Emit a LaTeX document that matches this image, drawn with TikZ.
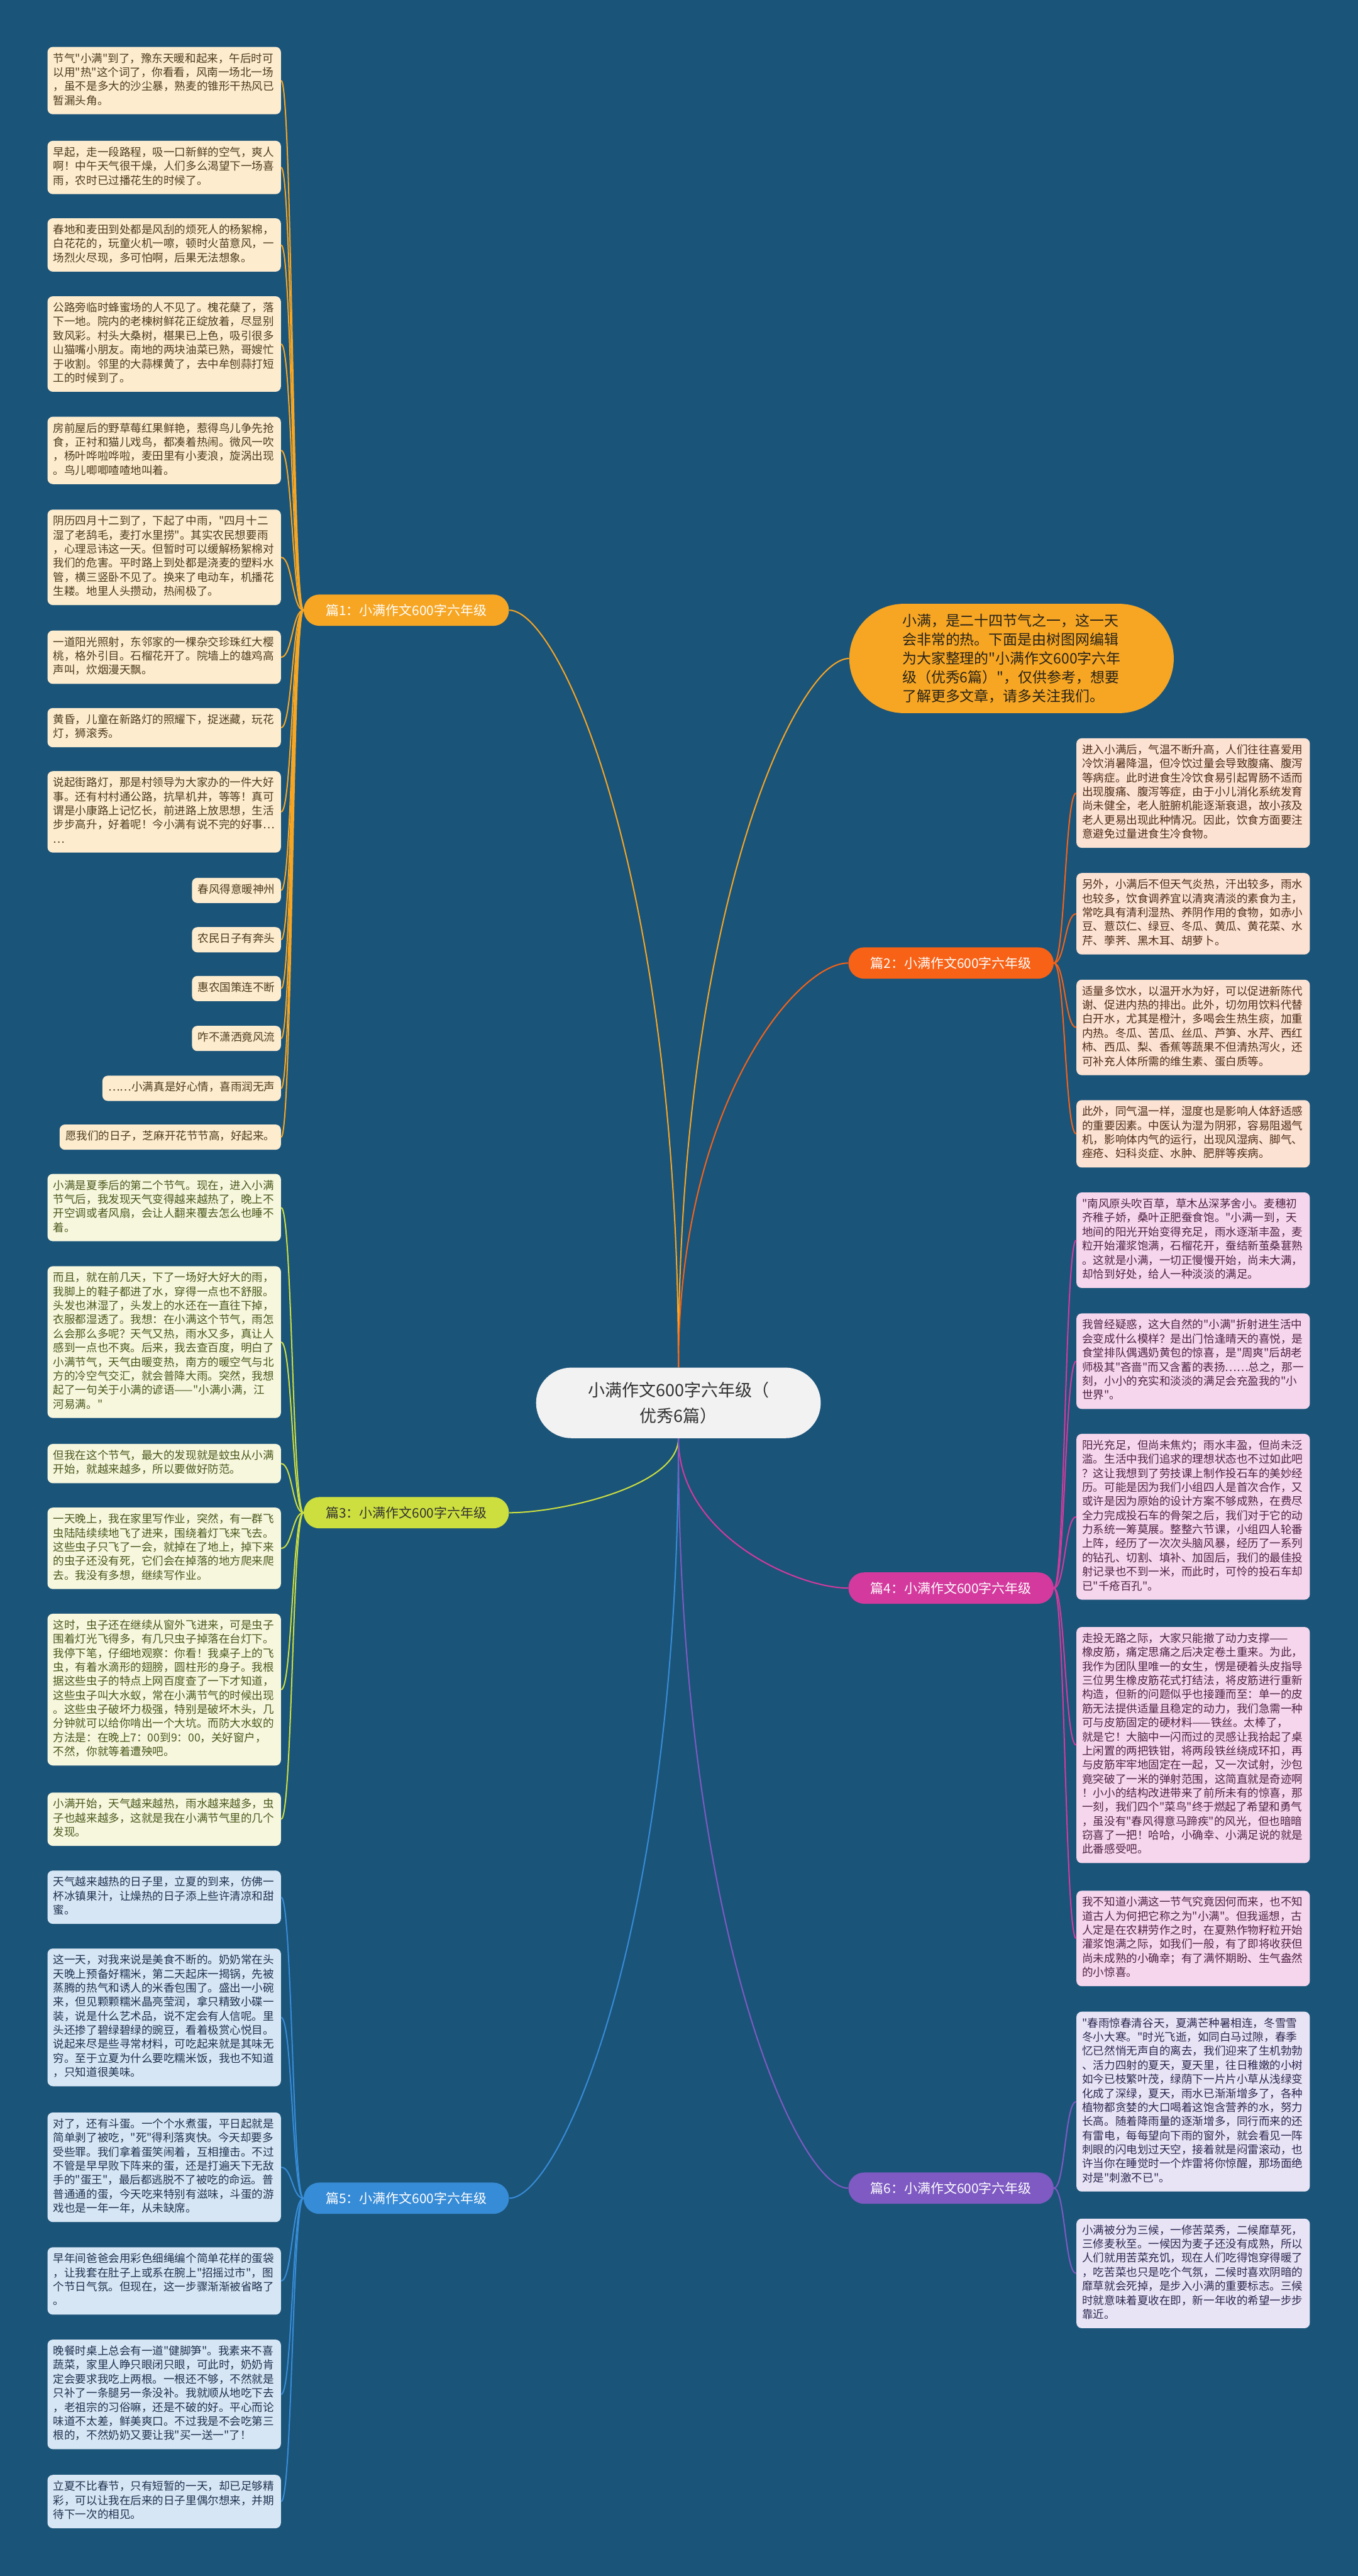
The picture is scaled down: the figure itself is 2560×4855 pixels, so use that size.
\documentclass[tikz,border=0pt]{standalone}
\usepackage{fontspec}
\setmainfont{Noto Sans CJK SC}[Ligatures=TeXOff]
\usetikzlibrary{shapes.misc,calc}
\definecolor{bg}{RGB}{27,84,121}
\definecolor{cfill}{RGB}{242,242,242}\definecolor{ctext}{RGB}{51,51,51}
\definecolor{itext}{RGB}{40,35,25}\definecolor{b3text}{RGB}{50,50,50}
\definecolor{l1}{RGB}{247,166,35}\definecolor{f1}{RGB}{253,236,206}\definecolor{t1}{RGB}{80,60,30}
\definecolor{l3}{RGB}{205,223,62}\definecolor{f3}{RGB}{247,247,222}\definecolor{t3}{RGB}{75,88,28}
\definecolor{l5}{RGB}{55,140,215}\definecolor{f5}{RGB}{215,230,244}\definecolor{t5}{RGB}{30,50,80}
\definecolor{l2}{RGB}{248,98,22}\definecolor{f2}{RGB}{252,226,210}\definecolor{t2}{RGB}{80,45,25}
\definecolor{l4}{RGB}{212,58,158}\definecolor{f4}{RGB}{246,214,236}\definecolor{t4}{RGB}{80,35,70}
\definecolor{l6}{RGB}{126,90,194}\definecolor{f6}{RGB}{232,228,245}\definecolor{t6}{RGB}{45,40,80}
\newcommand{\leaffont}{\fontsize{10.4pt}{13.25pt}\selectfont}
\tikzset{
  leaf/.style={rounded corners=5pt, inner xsep=5.5pt, inner ysep=5.25pt, font=\leaffont,
    execute at begin node=\strut, execute at end node=\strut},
  leafL/.style={leaf, anchor=north east},
  leafR/.style={leaf, anchor=north west},
  wide/.style={text width=209pt, align=left},
  g1/.style={fill=f1, text=t1}, g3/.style={fill=f3, text=t3}, g5/.style={fill=f5, text=t5},
  g2/.style={fill=f2, text=t2}, g4/.style={fill=f4, text=t4}, g6/.style={fill=f6, text=t6},
  branch/.style={rounded rectangle, minimum width=197.5pt, minimum height=29.5pt, inner sep=2pt,
    font=\fontsize{12.4pt}{15pt}\selectfont},
  conn/.style={line width=1.2pt},
}
\begin{document}
\begin{tikzpicture}[x=0.5pt,y=-0.5pt]
\fill[bg] (0,0) rectangle (2560,4855);
\useasboundingbox (0,0) rectangle (2560,4855);

% center and intro
\node[rounded rectangle, fill=cfill, text=ctext,
  minimum width=275pt, minimum height=66.5pt, align=center,
  font=\fontsize{16pt}{24pt}\selectfont] (c) at (1279,2644) {小满作文600字六年级（\\优秀6篇）};
\node[rounded rectangle, fill=l1, text=itext, minimum width=312.5pt, minimum height=103pt,
  align=left, font=\fontsize{13.6pt}{17.75pt}\selectfont] (intro) at (1907,1241)
  {小满，是二十四节气之一，这一天\\会非常的热。下面是由树图网编辑\\为大家整理的"小满作文600字六年\\级（优秀6篇）"，仅供参考，想要\\了解更多文章，请多关注我们。};

% branches
\node[branch, fill=l1, text=white] (b1) at (766,1150) {篇1：小满作文600字六年级};
\node[branch, fill=l3, text=b3text] (b3) at (766,2851) {篇3：小满作文600字六年级};
\node[branch, fill=l5, text=white] (b5) at (766,4143) {篇5：小满作文600字六年级};
\node[branch, fill=l2, text=white] (b2) at (1793,1815) {篇2：小满作文600字六年级};
\node[branch, fill=l4, text=white] (b4) at (1793,2993) {篇4：小满作文600字六年级};
\node[branch, fill=l6, text=white] (b6) at (1793,4124) {篇6：小满作文600字六年级};

% leaves of 篇1
\node[leafL, wide, g1] (A1) at (530,88) {节气"小满"到了，豫东天暖和起来，午后时可\\以用"热"这个词了，你看看，风南一场北一场\\，虽不是多大的沙尘暴，熟麦的锥形干热风已\\暂漏头角。};
\node[leafL, wide, g1] (A2) at (530,265) {早起，走一段路程，吸一口新鲜的空气，爽人\\啊！中午天气很干燥，人们多么渴望下一场喜\\雨，农时已过播花生的时候了。};
\node[leafL, wide, g1] (A3) at (530,411) {春地和麦田到处都是风刮的烦死人的杨絮棉，\\白花花的，玩童火机一嚓，顿时火苗意风，一\\场烈火尽现，多可怕啊，后果无法想象。};
\node[leafL, wide, g1] (A4) at (530,558) {公路旁临时蜂蜜场的人不见了。槐花蘖了，落\\下一地。院内的老楝树鲜花正绽放着，尽显别\\致风彩。村头大桑树，椹果已上色，吸引很多\\山猫嘴小朋友。南地的两块油菜已熟，哥嫂忙\\于收割。邻里的大蒜棵黄了，去中牟刨蒜打短\\工的时候到了。};
\node[leafL, wide, g1] (A5) at (530,785) {房前屋后的野草莓红果鲜艳，惹得鸟儿争先抢\\食，正衬和猫儿戏鸟，都凑着热闹。微风一吹\\，杨叶哗啦哗啦，麦田里有小麦浪，旋涡出现\\。鸟儿唧唧喳喳地叫着。};
\node[leafL, wide, g1] (A6) at (530,960) {阴历四月十二到了，下起了中雨，"四月十二\\湿了老鸹毛，麦打水里捞"。其实农民想要雨\\，心理忌讳这一天。但暂时可以缓解杨絮棉对\\我们的危害。平时路上到处都是浇麦的塑料水\\管，横三竖卧不见了。换来了电动车，机播花\\生耧。地里人头攒动，热闹极了。};
\node[leafL, wide, g1] (A7) at (530,1188) {一道阳光照射，东邻家的一棵杂交珍珠红大樱\\桃，格外引目。石榴花开了。院墙上的雄鸡高\\声叫，炊烟漫天飘。};
\node[leafL, wide, g1] (A8) at (530,1334) {黄昏，儿童在新路灯的照耀下，捉迷藏，玩花\\灯，狮滚秀。};
\node[leafL, wide, g1] (A9) at (530,1453) {说起街路灯，那是村领导为大家办的一件大好\\事。还有村村通公路，抗旱机井，等等！真可\\谓是小康路上记忆长，前进路上放思想，生活\\步步高升，好着呢！今小满有说不完的好事…\\…};
\node[leafL, g1] (A10) at (530,1654) {春风得意暖神州};
\node[leafL, g1] (A11) at (530,1747) {农民日子有奔头};
\node[leafL, g1] (A12) at (530,1839) {惠农国策连不断};
\node[leafL, g1] (A13) at (530,1933) {咋不潇洒竟风流};
\node[leafL, g1] (A14) at (530,2027) {……小满真是好心情，喜雨润无声};
\node[leafL, g1] (A15) at (530,2119) {愿我们的日子，芝麻开花节节高，好起来。};

% leaves of 篇3
\node[leafL, wide, g3] (B1) at (530,2212) {小满是夏季后的第二个节气。现在，进入小满\\节气后，我发现天气变得越来越热了，晚上不\\开空调或者风扇，会让人翻来覆去怎么也睡不\\着。};
\node[leafL, wide, g3] (B2) at (530,2386) {而且，就在前几天，下了一场好大好大的雨，\\我脚上的鞋子都进了水，穿得一点也不舒服。\\头发也淋湿了，头发上的水还在一直往下掉，\\衣服都湿透了。我想：在小满这个节气，雨怎\\么会那么多呢？天气又热，雨水又多，真让人\\感到一点也不爽。后来，我去查百度，明白了\\小满节气，天气由暖变热，南方的暖空气与北\\方的冷空气交汇，就会普降大雨。突然，我想\\起了一句关于小满的谚语——"小满小满，江\\河易满。"};
\node[leafL, wide, g3] (B3) at (530,2721) {但我在这个节气，最大的发现就是蚊虫从小满\\开始，就越来越多，所以要做好防范。};
\node[leafL, wide, g3] (B4) at (530,2841) {一天晚上，我在家里写作业，突然，有一群飞\\虫陆陆续续地飞了进来，围绕着灯飞来飞去。\\这些虫子只飞了一会，就掉在了地上，掉下来\\的虫子还没有死，它们会在掉落的地方爬来爬\\去。我没有多想，继续写作业。};
\node[leafL, wide, g3] (B5) at (530,3041) {这时，虫子还在继续从窗外飞进来，可是虫子\\围着灯光飞得多，有几只虫子掉落在台灯下。\\我停下笔，仔细地观察：你看！我桌子上的飞\\虫，有着水滴形的翅膀，圆柱形的身子。我根\\据这些虫子的特点上网百度查了一下才知道，\\这些虫子叫大水蚁，常在小满节气的时候出现\\。这些虫子破坏力极强，特别是破坏木头，几\\分钟就可以给你啃出一个大坑。而防大水蚁的\\方法是：在晚上7：00到9：00，关好窗户，\\不然，你就等着遭殃吧。};
\node[leafL, wide, g3] (B6) at (530,3378) {小满开始，天气越来越热，雨水越来越多，虫\\子也越来越多，这就是我在小满节气里的几个\\发现。};

% leaves of 篇5
\node[leafL, wide, g5] (C1) at (530,3525) {天气越来越热的日子里，立夏的到来，仿佛一\\杯冰镇果汁，让燥热的日子添上些许清凉和甜\\蜜。};
\node[leafL, wide, g5] (C2) at (530,3672) {这一天，对我来说是美食不断的。奶奶常在头\\天晚上预备好糯米，第二天起床一揭锅，先被\\蒸腾的热气和诱人的米香包围了。盛出一小碗\\来，但见颗颗糯米晶亮莹润，拿只精致小碟一\\装，说是什么艺术品，说不定会有人信呢。里\\头还掺了碧绿碧绿的豌豆，看着极赏心悦目。\\说起来尽是些寻常材料，可吃起来就是其味无\\穷。至于立夏为什么要吃糯米饭，我也不知道\\，只知道很美味。};
\node[leafL, wide, g5] (C3) at (530,3981) {对了，还有斗蛋。一个个水煮蛋，平日起就是\\简单剥了被吃，"死"得利落爽快。今天却要多\\受些罪。我们拿着蛋笑闹着，互相撞击。不过\\不管是早早败下阵来的蛋，还是打遍天下无敌\\手的"蛋王"，最后都逃脱不了被吃的命运。普\\普通通的蛋，今天吃来特别有滋味，斗蛋的游\\戏也是一年一年，从未缺席。};
\node[leafL, wide, g5] (C4) at (530,4235) {早年间爸爸会用彩色细绳编个简单花样的蛋袋\\，让我套在肚子上或系在腕上"招摇过市"，图\\个节日气氛。但现在，这一步骤渐渐被省略了\\。};
\node[leafL, wide, g5] (C5) at (530,4409) {晚餐时桌上总会有一道"健脚笋"。我素来不喜\\蔬菜，家里人睁只眼闭只眼，可此时，奶奶肯\\定会要求我吃上两根。一根还不够，不然就是\\只补了一条腿另一条没补。我就顺从地吃下去\\，老祖宗的习俗嘛，还是不破的好。平心而论\\味道不太差，鲜美爽口。不过我是不会吃第三\\根的，不然奶奶又要让我"买一送一"了！};
\node[leafL, wide, g5] (C6) at (530,4664) {立夏不比春节，只有短暂的一天，却已足够精\\彩，可以让我在后来的日子里偶尔想来，并期\\待下一次的相见。};

% leaves of 篇2
\node[leafR, wide, g2] (D1) at (2029,1391) {进入小满后，气温不断升高，人们往往喜爱用\\冷饮消暑降温，但冷饮过量会导致腹痛、腹泻\\等病症。此时进食生冷饮食易引起胃肠不适而\\出现腹痛、腹泻等症，由于小儿消化系统发育\\尚未健全，老人脏腑机能逐渐衰退，故小孩及\\老人更易出现此种情况。因此，饮食方面要注\\意避免过量进食生冷食物。};
\node[leafR, wide, g2] (D2) at (2029,1645) {另外，小满后不但天气炎热，汗出较多，雨水\\也较多，饮食调养宜以清爽清淡的素食为主，\\常吃具有清利湿热、养阴作用的食物，如赤小\\豆、薏苡仁、绿豆、冬瓜、黄瓜、黄花菜、水\\芹、荸荠、黑木耳、胡萝卜。};
\node[leafR, wide, g2] (D3) at (2029,1846) {适量多饮水，以温开水为好，可以促进新陈代\\谢、促进内热的排出。此外，切勿用饮料代替\\白开水，尤其是橙汁，多喝会生热生痰，加重\\内热。冬瓜、苦瓜、丝瓜、芦笋、水芹、西红\\柿、西瓜、梨、香蕉等蔬果不但清热泻火，还\\可补充人体所需的维生素、蛋白质等。};
\node[leafR, wide, g2] (D4) at (2029,2073) {此外，同气温一样，湿度也是影响人体舒适感\\的重要因素。中医认为湿为阴邪，容易阻遏气\\机，影响体内气的运行，出现风湿病、脚气、\\痤疮、妇科炎症、水肿、肥胖等疾病。};

% leaves of 篇4
\node[leafR, wide, g4] (E1) at (2029,2247) {"南风原头吹百草，草木丛深茅舍小。麦穗初\\齐稚子娇，桑叶正肥蚕食饱。"小满一到，天\\地间的阳光开始变得充足，雨水逐渐丰盈，麦\\粒开始灌浆饱满，石榴花开，蚕结新茧桑葚熟\\。这就是小满，一切正慢慢开始，尚未大满，\\却恰到好处，给人一种淡淡的满足。};
\node[leafR, wide, g4] (E2) at (2029,2475) {我曾经疑惑，这大自然的"小满"折射进生活中\\会变成什么模样？是出门恰逢晴天的喜悦，是\\食堂排队偶遇奶黄包的惊喜，是"周爽"后胡老\\师极其"吝啬"而又含蓄的表扬……总之，那一\\刻，小小的充实和淡淡的满足会充盈我的"小\\世界"。};
\node[leafR, wide, g4] (E3) at (2029,2702) {阳光充足，但尚未焦灼；雨水丰盈，但尚未泛\\滥。生活中我们追求的理想状态也不过如此吧\\？这让我想到了劳技课上制作投石车的美妙经\\历。可能是因为我们小组四人是首次合作，又\\或许是因为原始的设计方案不够成熟，在费尽\\全力完成投石车的骨架之后，我们对于它的动\\力系统一筹莫展。整整六节课，小组四人轮番\\上阵，经历了一次次头脑风暴，经历了一系列\\的钻孔、切割、填补、加固后，我们的最佳投\\射记录也不到一米，而此时，可怜的投石车却\\已"千疮百孔"。};
\node[leafR, wide, g4] (E4) at (2029,3066) {走投无路之际，大家只能撤了动力支撑——\\橡皮筋，痛定思痛之后决定卷土重来。为此，\\我作为团队里唯一的女生，愣是硬着头皮指导\\三位男生橡皮筋花式打结法，将皮筋进行重新\\构造，但新的问题似乎也接踵而至：单一的皮\\筋无法提供适量且稳定的动力，我们急需一种\\可与皮筋固定的硬材料——铁丝。太棒了，\\就是它！大脑中一闪而过的灵感让我拾起了桌\\上闲置的两把铁钳，将两段铁丝绕成环扣，再\\与皮筋牢牢地固定在一起，又一次试射，沙包\\竟突破了一米的弹射范围，这简直就是奇迹啊\\！小小的结构改进带来了前所未有的惊喜，那\\一刻，我们四个"菜鸟"终于燃起了希望和勇气\\，虽没有"春风得意马蹄疾"的风光，但也暗暗\\窃喜了一把！哈哈，小确幸、小满足说的就是\\此番感受吧。};
\node[leafR, wide, g4] (E5) at (2029,3563) {我不知道小满这一节气究竟因何而来，也不知\\道古人为何把它称之为"小满"。但我遥想，古\\人定是在农耕劳作之时，在夏熟作物籽粒开始\\灌浆饱满之际，如我们一般，有了即将收获但\\尚未成熟的小确幸；有了满怀期盼、生气盎然\\的小惊喜。};

% leaves of 篇6
\node[leafR, wide, g6] (F1) at (2029,3791) {"春雨惊春清谷天，夏满芒种暑相连，冬雪雪\\冬小大寒。"时光飞逝，如同白马过隙，春季\\忆已然悄无声自的离去，我们迎来了生机勃勃\\、活力四射的夏天，夏天里，往日稚嫩的小树\\如今已枝繁叶茂，绿荫下一片片小草从浅绿变\\化成了深绿，夏天，雨水已渐渐增多了，各种\\植物都贪婪的大口喝着这饱含营养的水，努力\\长高。随着降雨量的逐渐增多，同行而来的还\\有雷电，每每望向下雨的窗外，就会看见一阵\\刺眼的闪电划过天空，接着就是闷雷滚动，也\\许当你在睡觉时一个炸雷将你惊醒，那场面绝\\对是"刺激不已"。};
\node[leafR, wide, g6] (F2) at (2029,4181) {小满被分为三候，一修苦菜秀，二候靡草死，\\三修麦秋至。一候因为麦子还没有成熟，所以\\人们就用苦菜充饥，现在人们吃得饱穿得暖了\\，吃苦菜也只是吃个气氛，二候时喜欢阴暗的\\靡草就会死掉，是步入小满的重要标志。三候\\时就意味着夏收在即，新一年收的希望一步步\\靠近。};

% main connectors
\draw[conn, l1] (c.north) .. controls ($(c.north)!0.65!(c.north |- b1.east)$) and ($(c.north |- b1.east)!0.7!(b1.east)$) .. (b1.east);
\draw[conn, l1] (c.north) .. controls ($(c.north)!0.65!(c.north |- intro.west)$) and ($(c.north |- intro.west)!0.7!(intro.west)$) .. (intro.west);
\draw[conn, l2] (c.north) .. controls ($(c.north)!0.65!(c.north |- b2.west)$) and ($(c.north |- b2.west)!0.7!(b2.west)$) .. (b2.west);
\draw[conn, l3] (c.south) .. controls ($(c.south)!0.65!(c.south |- b3.east)$) and ($(c.south |- b3.east)!0.7!(b3.east)$) .. (b3.east);
\draw[conn, l4] (c.south) .. controls ($(c.south)!0.65!(c.south |- b4.west)$) and ($(c.south |- b4.west)!0.7!(b4.west)$) .. (b4.west);
\draw[conn, l5] (c.south) .. controls ($(c.south)!0.65!(c.south |- b5.east)$) and ($(c.south |- b5.east)!0.7!(b5.east)$) .. (b5.east);
\draw[conn, l6] (c.south) .. controls ($(c.south)!0.65!(c.south |- b6.west)$) and ($(c.south |- b6.west)!0.7!(b6.west)$) .. (b6.west);

% leaf connectors
\foreach \b/\col/\list in {b1/l1/{A1,A2,A3,A4,A5,A6,A7,A8,A9,A10,A11,A12,A13,A14,A15}, b3/l3/{B1,B2,B3,B4,B5,B6}, b5/l5/{C1,C2,C3,C4,C5,C6}}{
  \foreach \l in \list {
    \draw[conn, \col] (\b.west) .. controls ($(\b.west)+(-21,0)$) and ($(\b.west |- \l.east)+(-21,0)$) .. (\l.east);
  }
}
\foreach \b/\col/\list in {b2/l2/{D1,D2,D3,D4}, b4/l4/{E1,E2,E3,E4,E5}, b6/l6/{F1,F2}}{
  \foreach \l in \list {
    \draw[conn, \col] (\b.east) .. controls ($(\b.east)+(21,0)$) and ($(\b.east |- \l.west)+(21,0)$) .. (\l.west);
  }
}
\end{tikzpicture}
\end{document}
